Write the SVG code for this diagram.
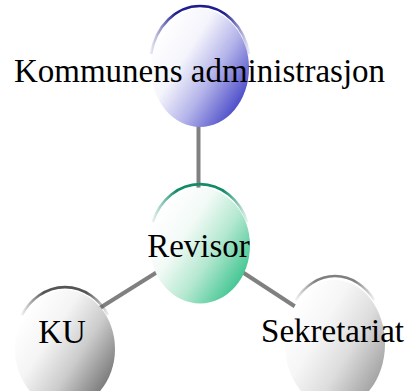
<svg xmlns="http://www.w3.org/2000/svg" width="408" height="391" viewBox="0 0 408 391">
<defs>
<linearGradient id="gBlue" x1="0.1" y1="0.2" x2="0.95" y2="0.85">
<stop offset="0" stop-color="#ffffff"/><stop offset="0.3" stop-color="#f4f4fc"/><stop offset="0.6" stop-color="#b4b4ea"/><stop offset="1" stop-color="#3c3cc4"/>
</linearGradient>
<linearGradient id="gGreen" x1="0.1" y1="0.2" x2="0.95" y2="0.85">
<stop offset="0" stop-color="#ffffff"/><stop offset="0.3" stop-color="#f2faf6"/><stop offset="0.6" stop-color="#b4e8d0"/><stop offset="1" stop-color="#30c088"/>
</linearGradient>
<linearGradient id="gGray1" x1="0.1" y1="0.2" x2="0.95" y2="0.85">
<stop offset="0" stop-color="#ffffff"/><stop offset="0.3" stop-color="#f4f4f4"/><stop offset="0.6" stop-color="#cccccc"/><stop offset="1" stop-color="#6e6e6e"/>
</linearGradient>
<linearGradient id="gGray2" x1="0.1" y1="0.2" x2="0.95" y2="0.85">
<stop offset="0" stop-color="#ffffff"/><stop offset="0.3" stop-color="#f6f6f6"/><stop offset="0.6" stop-color="#dddddd"/><stop offset="1" stop-color="#9a9a9a"/>
</linearGradient>
<linearGradient id="sBlue" x1="0" y1="0" x2="1" y2="0">
<stop offset="0" stop-color="#1e1e90" stop-opacity="0.1"/><stop offset="0.25" stop-color="#1e1e90"/><stop offset="0.75" stop-color="#1e1e90"/><stop offset="1" stop-color="#1e1e90" stop-opacity="0.1"/>
</linearGradient>
<linearGradient id="sGreen" x1="0" y1="0" x2="1" y2="0">
<stop offset="0" stop-color="#138a68" stop-opacity="0.1"/><stop offset="0.25" stop-color="#138a68"/><stop offset="0.75" stop-color="#138a68"/><stop offset="1" stop-color="#138a68" stop-opacity="0.1"/>
</linearGradient>
<linearGradient id="sGray1" x1="0" y1="0" x2="1" y2="0">
<stop offset="0" stop-color="#555555" stop-opacity="0.1"/><stop offset="0.25" stop-color="#555555"/><stop offset="0.75" stop-color="#555555"/><stop offset="1" stop-color="#555555" stop-opacity="0.1"/>
</linearGradient>
<linearGradient id="sGray2" x1="0" y1="0" x2="1" y2="0">
<stop offset="0" stop-color="#808080" stop-opacity="0.1"/><stop offset="0.25" stop-color="#808080"/><stop offset="0.75" stop-color="#808080"/><stop offset="1" stop-color="#808080" stop-opacity="0.1"/>
</linearGradient>
</defs>
<style>
.conn{stroke:#808080;stroke-width:4;fill:none}
.arc{fill:none;stroke-width:2.6}
.lbl{font-family:"Liberation Serif","Times New Roman",serif;font-size:33px;fill:#000;text-anchor:middle}
</style>
<g id="connectors">
<line class="conn" x1="198.5" y1="120" x2="198.5" y2="192"/>
<line class="conn" x1="170" y1="264" x2="95" y2="311"/>
<line class="conn" x1="230" y1="264" x2="305" y2="313"/>
</g>
<g id="node-kommune">
<ellipse cx="200" cy="68" rx="49" ry="59" fill="url(#gBlue)"/>
<path class="arc" stroke="url(#sBlue)" d="M151,54 A50,60 0 0 1 249,54"/>
<text class="lbl" x="199.5" y="82">Kommunens administrasjon</text>
</g>
<g id="node-revisor">
<ellipse cx="200" cy="245.5" rx="50" ry="58" fill="url(#gGreen)"/>
<path class="arc" stroke="url(#sGreen)" d="M152.6,222 A51,60 0 0 1 247.4,222"/>
<text class="lbl" x="198.5" y="257">Revisor</text>
</g>
<g id="node-ku">
<ellipse cx="65" cy="349" rx="50" ry="59" fill="url(#gGray1)"/>
<path class="arc" stroke="url(#sGray1)" d="M21.9,315 A51,60 0 0 1 108.1,315"/>
<text class="lbl" x="62" y="343">KU</text>
</g>
<g id="node-sekretariat">
<ellipse cx="335" cy="344" rx="50" ry="64" fill="url(#gGray2)"/>
<path class="arc" stroke="url(#sGray2)" d="M295.7,300 A51,66 0 0 1 374.3,300"/>
<text class="lbl" x="332.5" y="342">Sekretariat</text>
</g>
</svg>
